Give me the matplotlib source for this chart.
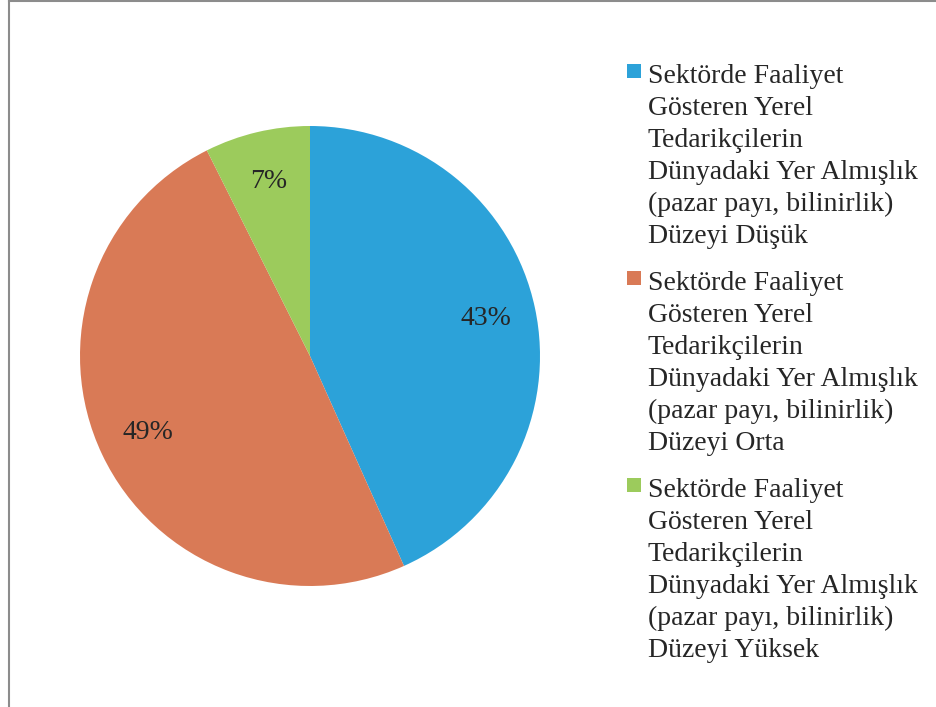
import matplotlib
matplotlib.use('Agg')
import matplotlib.pyplot as plt
from matplotlib.lines import Line2D
from matplotlib.patches import Rectangle

# shares (labels show rounded %)
shares = [43.3, 49.3, 7.4]
labels = [
    'Sektörde Faaliyet\nGösteren Yerel\nTedarikçilerin\nDünyadaki Yer Almışlık\n(pazar payı, bilinirlik)\nDüzeyi Düşük',
    'Sektörde Faaliyet\nGösteren Yerel\nTedarikçilerin\nDünyadaki Yer Almışlık\n(pazar payı, bilinirlik)\nDüzeyi Orta',
    'Sektörde Faaliyet\nGösteren Yerel\nTedarikçilerin\nDünyadaki Yer Almışlık\n(pazar payı, bilinirlik)\nDüzeyi Yüksek',
]
colors = ['#2ca2d9', '#d97a56', '#9ccb5c']

W, H = 936, 707
fig = plt.figure(figsize=(W / 100, H / 100), dpi=100)
plt.rcParams['font.family'] = ['Liberation Serif', 'DejaVu Serif']

# pie centre ~ (310, 356) px, radius ~230 px
cx, cy, r = 310, 356, 230
ax = fig.add_axes([(cx - r) / W, (H - cy - r) / H, 2 * r / W, 2 * r / H])
wedges, texts, autotexts = ax.pie(shares, colors=colors, startangle=90, counterclock=False,
                                  autopct=lambda p: '%d%%' % round(p), pctdistance=0.78,
                                  wedgeprops=dict(linewidth=0))
for t in autotexts:
    t.set_fontsize(20)
    t.set_color('#262626')
ax.set_xlim(-1, 1)
ax.set_ylim(-1, 1)
ax.set_aspect('equal')

# legend drawn by hand so the square sits on the first line
y0 = 64
step = 207
for i, (lab, c) in enumerate(zip(labels, colors)):
    top = y0 + i * step
    fig.patches.append(Rectangle((627 / W, 1 - (top + 14) / H), 14 / W, 14 / H,
                                 transform=fig.transFigure, facecolor=c, edgecolor='none'))
    fig.text(648 / W, 1 - top / H, lab, fontsize=20, color='#262626',
             va='top', ha='left', linespacing=1.37)

# frame lines (left and top)
fig.add_artist(Line2D([8.5 / W, 8.5 / W], [0, 1], transform=fig.transFigure, color='#8c8c8c', lw=1.5))
fig.add_artist(Line2D([8.5 / W, 1], [1 - 1 / H, 1 - 1 / H], transform=fig.transFigure, color='#8c8c8c', lw=1.5))

fig.savefig('out.png', dpi=100)
